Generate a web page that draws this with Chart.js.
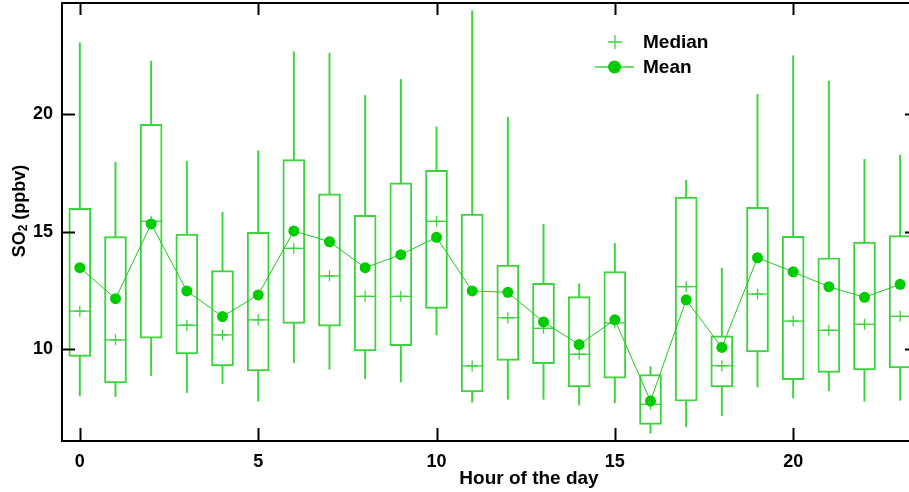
<!DOCTYPE html>
<html>
<head>
<meta charset="utf-8">
<title>Diurnal SO2</title>
<script src="https://cdn.jsdelivr.net/npm/chart.js@4.4.1/dist/chart.umd.min.js"></script>
<style>
  html, body { margin: 0; padding: 0; overflow: hidden; background: #fff; }
  #wrap { position: relative; width: 930px; height: 492px; }
</style>
</head>
<body>
<div id="wrap"><canvas id="c"></canvas></div>
<script>
// Hourly SO2 statistics (ppbv)
const hours       = [0, 1, 2, 3, 4, 5, 6, 7, 8, 9, 10, 11, 12, 13, 14, 15, 16, 17, 18, 19, 20, 21, 22, 23];
const whiskerHigh = [23.03, 17.95, 22.25, 17.99, 15.82, 18.44, 22.65, 22.58, 20.79, 21.47, 19.45, 24.39, 19.86, 15.31, 12.78, 14.50, 9.26, 17.18, 13.44, 20.84, 22.48, 21.40, 18.07, 18.26];
const q3          = [15.99, 14.79, 19.56, 14.89, 13.34, 14.97, 18.06, 16.61, 15.69, 17.07, 17.61, 15.75, 13.58, 12.80, 12.24, 13.30, 8.92, 16.47, 10.57, 16.03, 14.80, 13.88, 14.55, 14.83];
const median      = [11.62, 10.40, 15.44, 11.02, 10.61, 11.25, 14.29, 13.12, 12.25, 12.25, 15.44, 9.29, 11.34, 10.89, 9.79, 11.12, 7.66, 12.66, 9.30, 12.35, 11.20, 10.81, 11.06, 11.40];
const q1          = [9.70, 8.57, 10.47, 9.80, 9.29, 9.08, 11.10, 10.98, 9.93, 10.15, 11.74, 8.19, 9.53, 9.39, 8.40, 8.77, 6.81, 7.80, 8.40, 9.89, 8.71, 9.02, 9.12, 9.21];
const whiskerLow  = [8.02, 7.99, 8.88, 8.16, 8.53, 7.79, 9.43, 9.15, 8.75, 8.61, 10.61, 7.75, 7.87, 7.87, 7.63, 7.73, 6.43, 6.70, 7.17, 8.40, 7.93, 8.24, 7.79, 7.83];
const mean        = [13.47, 12.15, 15.33, 12.48, 11.39, 12.31, 15.03, 14.57, 13.47, 14.02, 14.76, 12.48, 12.42, 11.16, 10.20, 11.25, 7.80, 12.10, 10.08, 13.89, 13.29, 12.66, 12.21, 12.76];
const xTickValues = [0, 5, 10, 15, 20];
const yTickValues = [10, 15, 20];

const BOX = 'rgb(60, 212, 60)';
const DOT = 'rgb(0, 204, 0)';
const FONT = '"Liberation Sans", Arial, sans-serif';

Chart.defaults.font.family = FONT;
Chart.defaults.color = '#000';

const pairs = (a, b) => hours.map((h, i) => ({ x: h, y: [a[i], b[i]] }));
const points = arr => hours.map((h, i) => ({ x: h, y: arr[i] }));

// Frame, inward ticks, axis titles and legend
const decor = {
  id: 'decor',
  afterDraw(chart) {
    const { ctx, chartArea: a, scales } = chart;
    const xs = scales.x, ys = scales.y;
    ctx.save();
    ctx.strokeStyle = '#000';
    ctx.lineWidth = 2;
    ctx.strokeRect(a.left, a.top, a.right - a.left, a.bottom - a.top);
    ctx.beginPath();
    xTickValues.forEach(v => {
      const px = Math.round(xs.getPixelForValue(v)) + 0.5;
      ctx.moveTo(px, a.bottom); ctx.lineTo(px, a.bottom - 13);
      ctx.moveTo(px, a.top); ctx.lineTo(px, a.top + 12);
    });
    yTickValues.forEach(v => {
      const py = Math.round(ys.getPixelForValue(v)) + 0.5;
      ctx.moveTo(a.left, py); ctx.lineTo(a.left + 13, py);
      ctx.moveTo(a.right, py); ctx.lineTo(a.right - 13, py);
    });
    ctx.stroke();

    // x title
    ctx.fillStyle = '#000';
    ctx.font = 'bold 19px ' + FONT;
    ctx.textAlign = 'center';
    ctx.textBaseline = 'middle';
    ctx.fillText('Hour of the day', 529, 479);

    // y title with subscript
    ctx.save();
    ctx.translate(20, 211);
    ctx.rotate(-Math.PI / 2);
    ctx.textAlign = 'left';
    const big = 'bold 18px ' + FONT, small = 'bold 12px ' + FONT;
    ctx.font = big; const w1 = ctx.measureText('SO').width;
    ctx.font = small; const w2 = ctx.measureText('2').width;
    ctx.font = big; const w3 = ctx.measureText(' (ppbv)').width;
    let x0 = -(w1 + w2 + w3) / 2;
    ctx.font = big; ctx.fillText('SO', x0, 0);
    ctx.font = small; ctx.fillText('2', x0 + w1, 4);
    ctx.font = big; ctx.fillText(' (ppbv)', x0 + w1 + w2, 0);
    ctx.restore();

    // legend
    ctx.strokeStyle = BOX;
    ctx.lineWidth = 1.3;
    ctx.beginPath();
    ctx.moveTo(608, 42); ctx.lineTo(622, 42);
    ctx.moveTo(615, 35); ctx.lineTo(615, 49);
    ctx.moveTo(595, 67); ctx.lineTo(634, 67);
    ctx.stroke();
    ctx.fillStyle = DOT;
    ctx.beginPath(); ctx.arc(614.5, 67, 6.5, 0, Math.PI * 2); ctx.fill();
    ctx.fillStyle = '#000';
    ctx.font = 'bold 19px ' + FONT;
    ctx.textAlign = 'left';
    ctx.fillText('Median', 643, 43);
    ctx.fillText('Mean', 643, 68);
    ctx.restore();
  }
};

new Chart(document.getElementById('c'), {
  type: 'bar',
  data: {
    datasets: [
      { type: 'line', label: 'Mean', data: points(mean), order: 0,
        borderColor: 'rgb(30, 200, 30)', borderWidth: 1, backgroundColor: DOT,
        pointRadius: 5.5, pointBackgroundColor: DOT, pointBorderWidth: 0, tension: 0 },
      { type: 'scatter', label: 'Median', data: points(median), order: 1,
        pointStyle: 'cross', pointRadius: 5.5, borderColor: BOX, pointBorderWidth: 1.3 },
      { type: 'scatter', label: 'MedianLine', data: points(median), order: 1,
        pointStyle: 'line', pointRadius: 11, borderColor: BOX, pointBorderWidth: 1.3 },
      { type: 'bar', label: 'Box', data: pairs(q1, q3), order: 2, grouped: false,
        barThickness: 22, backgroundColor: 'rgba(0,0,0,0)', borderColor: BOX,
        borderWidth: 1.3, borderSkipped: false },
      { type: 'bar', label: 'Upper', data: pairs(q3, whiskerHigh), order: 3, grouped: false,
        barThickness: 1.3, backgroundColor: BOX, borderWidth: 0 },
      { type: 'bar', label: 'Lower', data: pairs(whiskerLow, q1), order: 3, grouped: false,
        barThickness: 1.3, backgroundColor: BOX, borderWidth: 0 }
    ]
  },
  options: {
    responsive: true,
    maintainAspectRatio: false,
    animation: false,
    events: [],
    layout: { autoPadding: false, padding: { left: 0, top: 3, right: 12, bottom: 0 } },
    plugins: { legend: { display: false }, tooltip: { enabled: false } },
    scales: {
      x: {
        type: 'linear', min: -0.5, max: 23.5, offset: false,
        grid: { display: false, drawTicks: false }, border: { display: false },
        afterBuildTicks: s => { s.ticks = xTickValues.map(v => ({ value: v })); },
        afterFit: s => { s.height = 51; s.paddingLeft = 0; s.paddingRight = 0; },
        ticks: { font: { size: 18, weight: 'bold' }, padding: 10, maxRotation: 0, autoSkip: false }
      },
      y: {
        type: 'linear', min: 6.1, max: 24.72,
        grid: { display: false, drawTicks: false }, border: { display: false },
        afterBuildTicks: s => { s.ticks = yTickValues.map(v => ({ value: v })); },
        afterFit: s => { s.width = 62; s.paddingTop = 0; s.paddingBottom = 0; },
        ticks: { font: { size: 18, weight: 'bold' }, padding: 9 }
      }
    }
  },
  plugins: [decor]
});
</script>
</body>
</html>
